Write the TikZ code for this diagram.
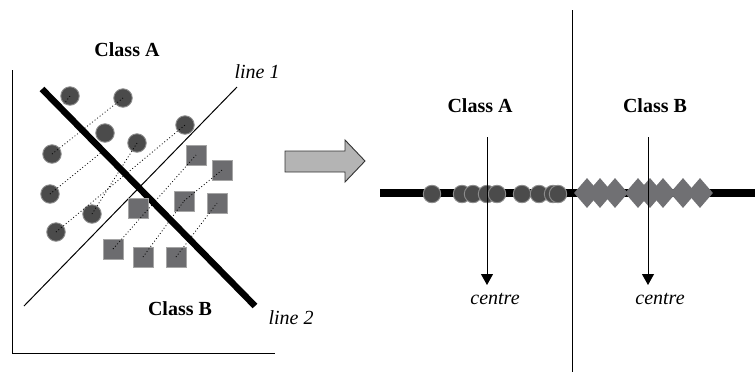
\documentclass[tikz,border=0pt]{standalone}
\usepackage{fontspec}
\setmainfont{Liberation Serif}
\usetikzlibrary{shapes.geometric,arrows.meta}
\definecolor{circfill}{HTML}{4B4B4B}
\definecolor{circedge}{HTML}{8C8C8C}
\definecolor{sqfill}{HTML}{6C6C6F}
\definecolor{sqedge}{HTML}{A5A5A5}
\definecolor{diafill}{HTML}{707073}
\definecolor{bigarrow}{HTML}{B4B4B4}
\definecolor{arrowedge}{HTML}{333333}
\begin{document}
\begin{tikzpicture}[x=1pt,y=-1pt,
  ptA/.style={circle,fill=circfill,draw=circedge,line width=0.9pt,minimum size=18.5pt,inner sep=0pt},
  ptB/.style={rectangle,fill=sqfill,draw=sqedge,line width=0.6pt,minimum size=20pt,inner sep=0pt},
  ptR/.style={circle,fill=circfill,draw=circedge,line width=0.9pt,minimum size=17.5pt,inner sep=0pt},
  ptD/.style={diamond,fill=diafill,minimum width=26pt,minimum height=30pt,inner sep=0pt},
  lbl/.style={font=\bfseries\fontsize{20}{22}\selectfont,inner sep=0pt},
  ital/.style={font=\itshape\fontsize{20}{22}\selectfont,inner sep=0pt},
  proj/.style={line width=0.8pt,dash pattern=on 0.9pt off 2.3pt},
  axis/.style={line width=1pt},
  thin/.style={line width=1pt},
  centrearrow/.style={line width=1pt,-{Triangle[length=11pt,width=12pt]}}]
\useasboundingbox (0,0) rectangle (755,376);

% ---------- left panel: scatter plot ----------
\coordinate (yTop) at (12,70);
\coordinate (org) at (12,353);
\coordinate (xEnd) at (275,353);
\draw[axis] (yTop) -- (org) -- (xEnd);

\coordinate (l1a) at (24,306);
\coordinate (l1b) at (237,87);
\draw[thin] (l1a) -- (l1b);
\coordinate (l2a) at (42,89);
\coordinate (l2b) at (255,306);
\draw[line width=6.5pt] (l2a) -- (l2b);

\node[lbl] (classA) at (127,50) {Class A};
\node[lbl] (classB) at (180,309) {Class B};
\node[ital] (line1) at (257,71.5) {line 1};
\node[ital] (line2) at (291,317.5) {line 2};

% class A points
\node[ptA] (a1) at (70,96) {};
\node[ptA] (a2) at (123,98) {};
\node[ptA] (a3) at (105,133) {};
\node[ptA] (a4) at (185,125) {};
\node[ptA] (a5) at (137,143) {};
\node[ptA] (a6) at (52,154) {};
\node[ptA] (a7) at (50,194) {};
\node[ptA] (a8) at (92,214) {};
\node[ptA] (a9) at (56,232) {};

% class B points
\node[ptB] (b1) at (196,155) {};
\node[ptB] (b2) at (222,170) {};
\node[ptB] (b3) at (138,208) {};
\node[ptB] (b4) at (184,201) {};
\node[ptB] (b5) at (217,203) {};
\node[ptB] (b6) at (113,249) {};
\node[ptB] (b7) at (143,257) {};
\node[ptB] (b8) at (176,257) {};

% projection lines
\coordinate (p1) at (64,104);
\coordinate (p7) at (103,151);
\draw[proj] (a1.center) -- (p1);
\draw[proj] (a6.center) -- (a2.center);
\draw[proj] (a7.center) -- (p7);
\draw[proj] (a8.center) -- (a5.center);
\draw[proj] (a9.center) -- (a4.center);
\draw[proj] (b6.center) -- (b1.center);
\draw[proj] (b7.center) -- (b4.center);
\draw[proj] (b4.center) -- (b2.center);
\draw[proj] (b8.center) -- (b5.center);

% ---------- block arrow ----------
\draw[fill=bigarrow,draw=arrowedge,line width=0.9pt]
  (285,151) -- (345,151) -- (345,140) -- (365,161) -- (345,182) -- (345,172) -- (285,172) -- cycle;

% ---------- right panel: projected points ----------
\coordinate (divTop) at (572,10);
\coordinate (divBot) at (572,372);
\draw[thin] (divTop) -- (divBot);
\coordinate (pl) at (380,193);
\coordinate (pr) at (755,193);
\draw[line width=8pt] (pl) -- (pr);

\foreach \x [count=\i] in {432,462,473,487,497,522,539,553,558}
  \node[ptR] (r\i) at (\x,194) {};
\foreach \x [count=\i] in {587,600,615,638,650,663,683,700}
  \node[ptD] (d\i) at (\x,193) {};

\node[lbl] (rclassA) at (480,105.5) {Class A};
\node[lbl] (rclassB) at (655,105.5) {Class B};

\coordinate (cAtop) at (487,137);
\coordinate (cAbot) at (487,285);
\coordinate (cBtop) at (648,137);
\coordinate (cBbot) at (648,285);
\draw[centrearrow] (cAtop) -- (cAbot);
\draw[centrearrow] (cBtop) -- (cBbot);
\node[ital] (centreA) at (495,299) {centre};
\node[ital] (centreB) at (660,299) {centre};
\end{tikzpicture}
\end{document}
